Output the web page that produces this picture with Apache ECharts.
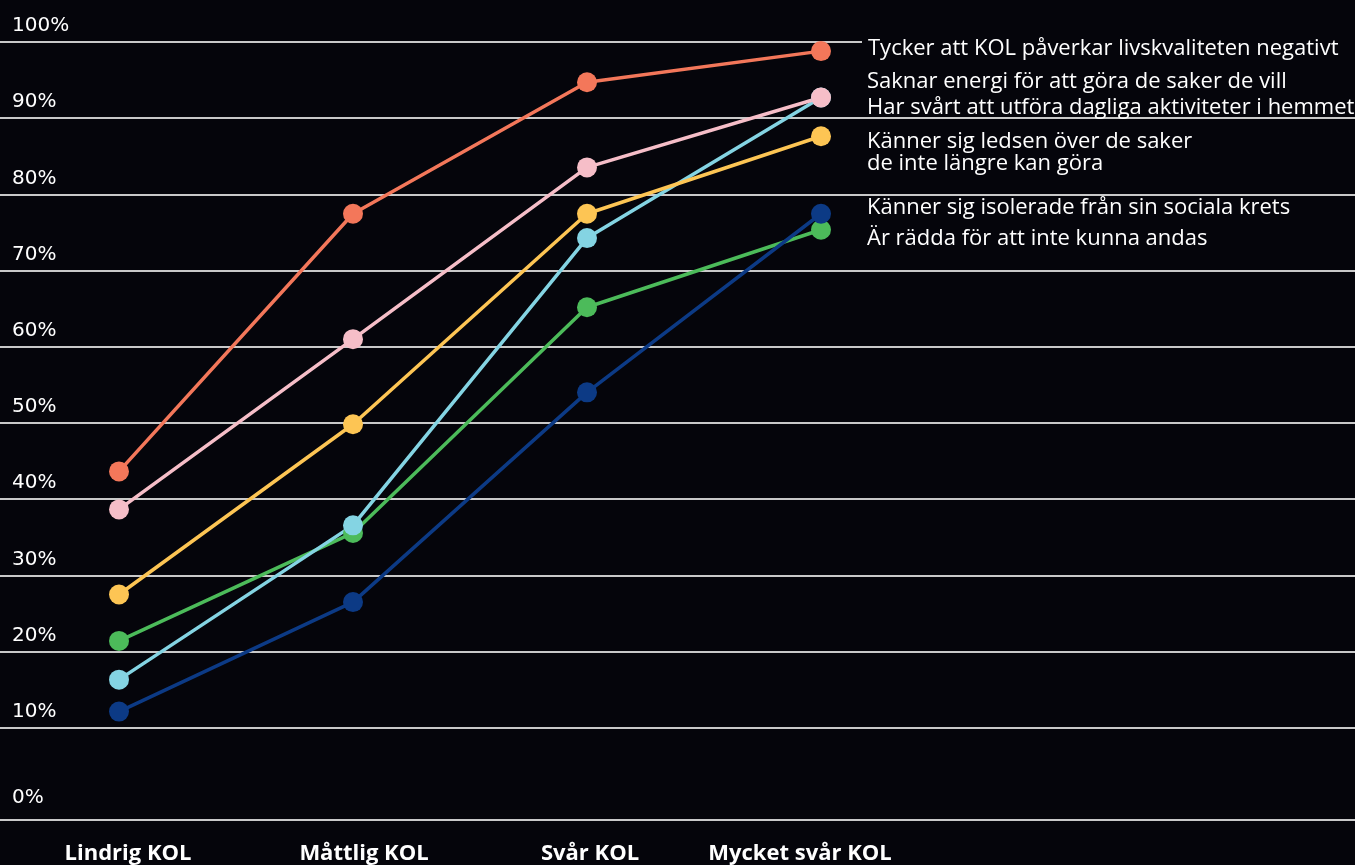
<!DOCTYPE html>
<html>
<head>
<meta charset="utf-8">
<script src="https://cdn.jsdelivr.net/npm/echarts@6/dist/echarts.min.js"></script>
<style>
  html, body { margin: 0; padding: 0; background: #05050b; }
  #chart { width: 1355px; height: 865px; }
</style>
</head>
<body>
<div id="chart"></div>
<script>
// Andel (%) per svårighetsgrad av KOL
const categories = ['Lindrig KOL', 'Måttlig KOL', 'Svår KOL', 'Mycket svår KOL'];
const yTicks = [0, 10, 20, 30, 40, 50, 60, 70, 80, 90, 100];

const tycker    = [43.5, 77.4, 94.7, 98.8];
const saknar    = [38.5, 60.9, 83.5, 92.7];
const harSvart  = [16.1, 36.4, 74.2, 92.7];
const ledsen    = [27.3, 49.7, 77.4, 87.6];
const isolerade = [11.9, 26.3, 53.9, 77.4];
const radda     = [21.2, 35.4, 65.1, 75.3];

const BG = '#05050b';
const GRID_LINE = '#c9c9c9';
const TEXT_FONT = '"Open Sans", Lato, sans-serif';
const NUM_FONT = '"DejaVu Sans", "Open Sans", sans-serif';

const chart = echarts.init(document.getElementById('chart'));

const endText = { color: '#ffffff', fontFamily: TEXT_FONT, fontSize: 22, lineHeight: 22 };

function lineSeries(name, data, color, labelOffsetY, covered) {
  return {
    type: 'line',
    name: name,
    xAxisIndex: 1,
    yAxisIndex: 1,
    data: data,
    symbol: 'circle',
    symbolSize: 20,
    lineStyle: { color: color, width: 3.5 },
    itemStyle: { color: color },
    emphasis: { disabled: true },
    endLabel: Object.assign({
      show: true,
      // a label sitting on a grid line gets a plate in the background colour
      formatter: covered ? '{t|' + name + '}' : name,
      distance: covered ? 41 : 46,
      offset: [0, labelOffsetY],
      rich: {
        t: Object.assign({ backgroundColor: BG, padding: [4, 30, 4, 6] }, endText)
      }
    }, endText)
  };
}

// small per-label nudges for the category names
const catStyle = {
  'Lindrig KOL': 'a',
  'Måttlig KOL': 'b',
  'Svår KOL': 'c',
  'Mycket svår KOL': 'd'
};
const catText = { color: '#ffffff', fontFamily: TEXT_FONT, fontWeight: 'bold', fontSize: 22 };
const numText = { color: '#ffffff', fontFamily: NUM_FONT, fontSize: 20 };

const option = {
  backgroundColor: BG,
  animation: false,
  grid: [
    { left: 0, right: 0, top: 42, bottom: 61 },
    { left: 2, width: 936, top: 42, bottom: 61 }
  ],
  xAxis: [
    {
      type: 'value', gridIndex: 0, min: 0, max: 1, offset: 16,
      axisLine: { show: true, onZero: false, lineStyle: { color: GRID_LINE, width: 2 } },
      axisTick: { show: false }, axisLabel: { show: false }, splitLine: { show: false }
    },
    {
      type: 'category', gridIndex: 1, data: categories, boundaryGap: true,
      axisLine: { show: false }, axisTick: { show: false },
      axisLabel: {
        margin: 41,
        formatter: function (v) { return '{' + catStyle[v] + '|' + v + '}'; },
        rich: {
          a: Object.assign({ padding: [0, 0, 0, 18] }, catText),
          b: Object.assign({ padding: [0, 0, 0, 22] }, catText),
          c: Object.assign({ padding: [0, 0, 0, 6] }, catText),
          d: Object.assign({ padding: [0, 42, 0, 0] }, catText)
        }
      }
    }
  ],
  yAxis: [
    {
      type: 'value', gridIndex: 0, min: 0, max: 100, interval: 10,
      axisLine: { show: false }, axisTick: { show: false },
      splitLine: { show: true, showMinLine: false, lineStyle: { color: GRID_LINE, width: 2 } },
      axisLabel: {
        inside: true,
        margin: 12,
        verticalAlign: 'middle',
        formatter: function (v) { return v === 0 ? '{z|0%}' : '{n|' + v + '%}'; },
        rich: {
          n: Object.assign({ padding: [0, 0, 32, 0] }, numText),
          z: Object.assign({ padding: [0, 0, 12, 0] }, numText)
        }
      }
    },
    {
      type: 'value', gridIndex: 1, min: 0, max: 100, interval: 10, show: false,
      splitLine: { show: false }
    }
  ],
  series: [
    lineSeries('Är rädda för att inte kunna andas', radda, '#4cbb5a', 9),
    lineSeries('Känner sig isolerade från sin sociala krets', isolerade, '#0c3a85', -6),
    lineSeries('Har svårt att utföra dagliga aktiviteter i hemmet', harSvart, '#84d4e3', 10),
    lineSeries('Känner sig ledsen över de saker\nde inte längre kan göra', ledsen, '#fdc554', 16),
    lineSeries('Saknar energi för att göra de saker de vill', saknar, '#f6bec8', -16),
    lineSeries('Tycker att KOL påverkar livskvaliteten negativt', tycker, '#f3775a', -2, true)
  ]
};

chart.setOption(option);
</script>
</body>
</html>
